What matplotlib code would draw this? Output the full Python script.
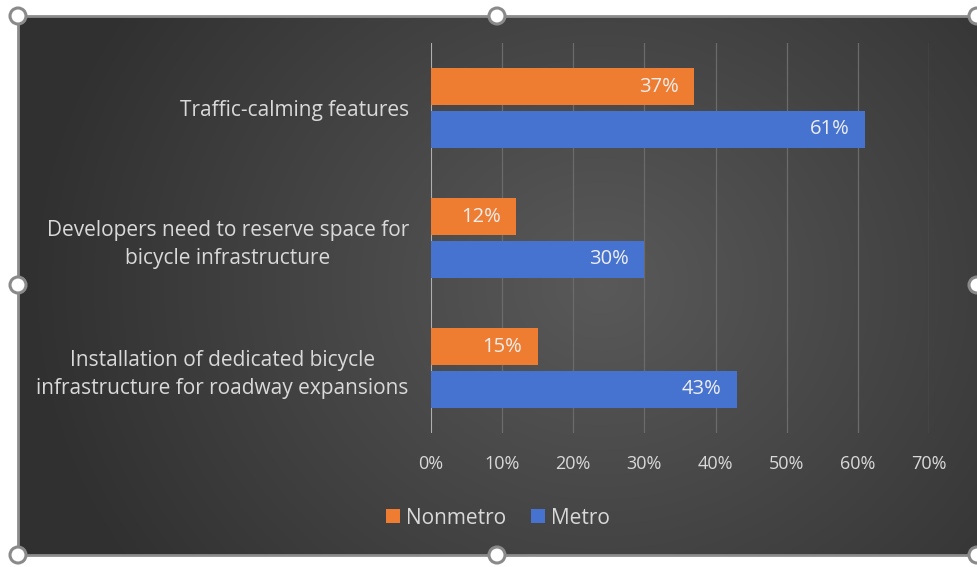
import numpy as np
import matplotlib.pyplot as plt
from matplotlib.patches import Circle, Rectangle

categories = ["Traffic-calming features",
              "Developers need to reserve space for\nbicycle infrastructure",
              "Installation of dedicated bicycle\ninfrastructure for roadway expansions"]
nonmetro = [37, 12, 15]
metro = [61, 30, 43]
xticks = [0, 10, 20, 30, 40, 50, 60, 70]

W, H = 977, 567
plt.rcParams['font.family'] = ['Open Sans', 'DejaVu Sans']
txt = '#d9d9d9'
orange = '#ee7d31'
blue = '#4673cf'

fig = plt.figure(figsize=(W / 100, H / 100), dpi=100)
fig.patch.set_facecolor('white')

# chart area background: radial grey gradient
x0, x1, y0, y1 = 18, 990, 16, 555
bg = fig.add_axes([x0 / W, 1 - y1 / H, (x1 - x0) / W, (y1 - y0) / H], zorder=0)
yy, xx = np.mgrid[0:1:300j, 0:1:600j]
d = np.sqrt(((xx - 0.6) * 1.6) ** 2 + ((yy - 0.5) * 1.0) ** 2)
g = np.clip(0.35 - 0.17 * d, 0.19, 0.4)
bg.imshow(np.dstack([g, g, g]), aspect='auto', extent=(0, 1, 0, 1), interpolation='bicubic')
bg.set_axis_off()

# main plot
ax = fig.add_axes([431 / W, 1 - 433 / H, 498 / W, 390 / H], zorder=2)
ax.patch.set_alpha(0)
pos = np.arange(len(categories))
h = 0.29
off = 0.165
b1 = ax.barh(pos - off, nonmetro, height=h, color=orange, label='Nonmetro', zorder=3)
b2 = ax.barh(pos + off, metro, height=h, color=blue, label='Metro', zorder=3)
for bars, vals in ((b1, nonmetro), (b2, metro)):
    for b, v in zip(bars, vals):
        ax.text(v - 2.2, b.get_y() + b.get_height() / 2, f"{v}%", ha='right', va='center',
                color='#eeeeee', fontsize=14.5, zorder=4)

ax.set_xlim(0, 70)
ax.set_ylim(2.5, -0.5)
ax.set_xticks(xticks)
ax.set_xticklabels([f"{t}%" for t in xticks])
ax.set_yticks(pos)
ax.set_yticklabels(categories, ha='right', multialignment='center', linespacing=1.45)
ax.tick_params(axis='y', length=0, pad=16, labelsize=15, labelcolor=txt)
ax.tick_params(axis='x', length=0, pad=16, labelsize=13, labelcolor=txt)
ax.grid(axis='x', color='#6b6b6b', linewidth=0.9, zorder=1)
for s in ax.spines.values():
    s.set_visible(False)
ax.axvline(0, color='#bdbdbd', linewidth=1.2, zorder=2)

leg = fig.legend(handles=[b1, b2], loc='center', bbox_to_anchor=(498 / W, 1 - 518 / H),
                 ncol=2, frameon=False, fontsize=15, handlelength=0.67, handleheight=0.67,
                 handletextpad=0.3, columnspacing=1.2)
for t in leg.get_texts():
    t.set_color(txt)

# chart frame and selection handles
ov = fig.add_axes([0, 0, 1, 1], zorder=5)
ov.set_xlim(0, W)
ov.set_ylim(H, 0)
ov.set_axis_off()
ov.add_patch(Rectangle((x0, y0), x1 - x0, y1 - y0, fill=False, edgecolor='#8c8c8c', linewidth=2))
for cx, cy in [(18, 16), (497, 16), (977, 16), (18, 285), (977, 285), (18, 555), (497, 555), (977, 555)]:
    ov.add_patch(Circle((cx, cy), 8, facecolor='white', edgecolor='#8a8a8a', linewidth=2.2))

fig.savefig('out.png', dpi=100)
